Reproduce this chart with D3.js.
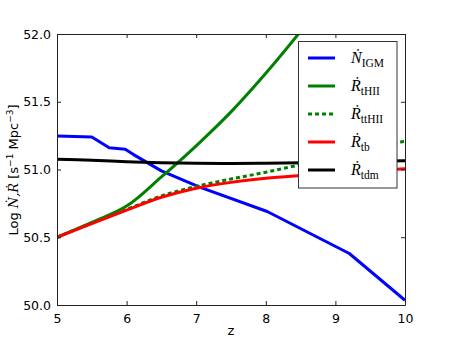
<!DOCTYPE html>
<html><head><meta charset="utf-8">
<script src="https://cdn.jsdelivr.net/npm/d3@7"></script>
<style>body{margin:0;background:#fff;}svg{display:block;}</style>
</head><body>
<svg id="c" width="450" height="340"></svg>
<script>
const zIGM  = [5, 5.5, 5.75, 5.98, 6.1, 6.5, 7.05, 8.02, 9.2, 10];
const vIGM  = [51.247, 51.24, 51.16, 51.15, 51.11, 50.99, 50.87, 50.69, 50.38, 50.035];
const zGrid = [5, 5.5, 6, 6.5, 7, 7.5, 8, 8.5, 9, 9.5, 10];
const vtHII = [50.5, 50.61, 50.73, 50.945, 51.175, 51.425, 51.71, 52.02, 52.35, 52.7, 53.05];
const vttHII= [50.5, 50.605, 50.705, 50.805, 50.875, 50.93, 50.98, 51.035, 51.085, 51.145, 51.21];
const vtb   = [50.5, 50.6, 50.7, 50.795, 50.862, 50.905, 50.935, 50.955, 50.972, 50.99, 51.005];
const vtdm  = [51.075, 51.068, 51.058, 51.05, 51.046, 51.045, 51.047, 51.05, 51.055, 51.06, 51.065];
const xTicks = [5, 6, 7, 8, 9, 10];
const yTicks = [50.0, 50.5, 51.0, 51.5, 52.0];

const series = [
  {name:"N", sub:"IGM",  z:zIGM,  v:vIGM,   color:"#0000ff", dash:null, smooth:false},
  {name:"R", sub:"tHII", z:zGrid, v:vtHII,  color:"#008000", dash:null, smooth:true},
  {name:"R", sub:"ttHII",z:zGrid, v:vttHII, color:"#008000", dash:"4,3", smooth:true},
  {name:"R", sub:"tb",   z:zGrid, v:vtb,    color:"#ff0000", dash:null, smooth:true},
  {name:"R", sub:"tdm",  z:zGrid, v:vtdm,   color:"#000000", dash:null, smooth:true}
];

const svg = d3.select("#c");
const L=57, R=405, T=34, B=305;
const x = d3.scaleLinear().domain([5,10]).range([L,R]);
const y = d3.scaleLinear().domain([50,52]).range([B,T]);

svg.append("defs").append("clipPath").attr("id","clip")
  .append("rect").attr("x",L).attr("y",T).attr("width",R-L).attr("height",B-T);

const g = svg.append("g").attr("clip-path","url(#clip)");
series.forEach(s=>{
  const line = d3.line().x(d=>x(d[0])).y(d=>y(d[1]))
    .curve(s.smooth ? d3.curveCatmullRom.alpha(0.5) : d3.curveLinear);
  g.append("path").datum(s.z.map((z,i)=>[z,s.v[i]]))
   .attr("d",line).attr("fill","none").attr("stroke",s.color)
   .attr("stroke-width",3).attr("stroke-dasharray",s.dash)
   .attr("stroke-linejoin","round");
});

const fontT = "'DejaVu Sans', sans-serif";
const axB = svg.append("g").attr("transform",`translate(0,${B})`)
  .call(d3.axisBottom(x).tickValues(xTicks).tickSizeInner(-4).tickSizeOuter(0).tickPadding(7).tickFormat(d3.format("d")));
const axT = svg.append("g").attr("transform",`translate(0,${T})`)
  .call(d3.axisTop(x).tickValues(xTicks).tickSizeInner(-4).tickSizeOuter(0).tickFormat(""));
const axL = svg.append("g").attr("transform",`translate(${L},0)`)
  .call(d3.axisLeft(y).tickValues(yTicks).tickSizeInner(-4).tickSizeOuter(0).tickPadding(6).tickFormat(d3.format(".1f")));
const axR = svg.append("g").attr("transform",`translate(${R},0)`)
  .call(d3.axisRight(y).tickValues(yTicks).tickSizeInner(-4).tickSizeOuter(0).tickFormat(""));
[axB,axT,axL,axR].forEach(a=>{
  a.selectAll("path.domain").attr("stroke","#222").attr("stroke-width",1);
  a.selectAll(".tick line").attr("stroke","#222");
  a.selectAll("text").attr("font-family",fontT).attr("font-size",12.5).attr("fill","#000");
});
axB.selectAll("text").attr("dy","0.9em");

svg.append("text").attr("x",(L+R)/2).attr("y",335).attr("text-anchor","middle")
  .attr("font-family",fontT).attr("font-size",13).text("z");

const yl = svg.append("text").attr("transform","translate(18,170) rotate(-90)")
  .attr("text-anchor","middle").attr("font-family",fontT).attr("font-size",13);
yl.append("tspan").text("Log ");
yl.append("tspan").attr("font-family","'DejaVu Serif', serif").attr("font-style","italic").text("\u1E44,\u1E58");
yl.append("tspan").text(" [s");
yl.append("tspan").attr("dy",-5).attr("font-size",9).text("\u22121");
yl.append("tspan").attr("dy",5).text(" Mpc");
yl.append("tspan").attr("dy",-5).attr("font-size",9).text("\u22123");
yl.append("tspan").attr("dy",5).text("]");

const lg = svg.append("g");
lg.append("rect").attr("x",298.5).attr("y",41.5).attr("width",98.5).attr("height",146.5)
  .attr("fill","#fff").attr("stroke","#333").attr("stroke-width",1);
series.forEach((s,i)=>{
  const yy = 58 + i*28;
  lg.append("line").attr("x1",308).attr("x2",335).attr("y1",yy).attr("y2",yy)
    .attr("stroke",s.color).attr("stroke-width",3).attr("stroke-dasharray",s.dash);
  const t = lg.append("text").attr("x",351).attr("y",yy+5)
    .attr("font-family","'Liberation Serif', 'DejaVu Serif', serif").attr("font-size",16);
  t.append("tspan").attr("font-style","italic").text(s.name==="N"?"\u1E44":"\u1E58");
  t.append("tspan").attr("dy",4).attr("font-size",11.5).text(s.sub);
});
</script>
</body></html>
